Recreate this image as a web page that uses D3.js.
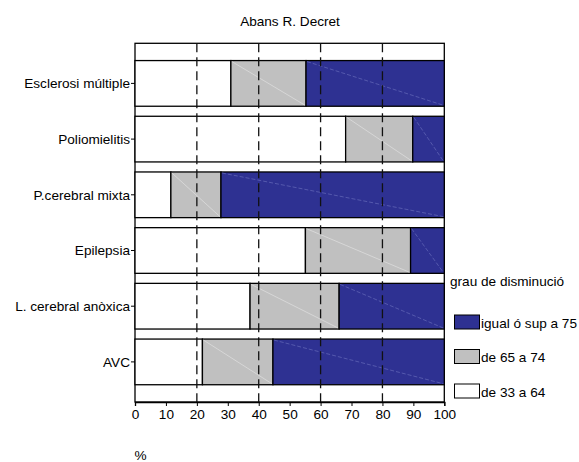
<!DOCTYPE html>
<html><head><meta charset="utf-8">
<script src="https://cdn.jsdelivr.net/npm/d3@7"></script>
<style>body{margin:0;background:#fff}svg{display:block;font-family:"Liberation Sans",Arial,sans-serif}</style>
</head><body><svg id="c" width="579" height="462"></svg>
<script>
const categories = ["Esclerosi múltiple","Poliomielitis","P.cerebral mixta","Epilepsia","L. cerebral anòxica","AVC"];
const seriesNames = ["de 33 a 64","de 65 a 74","igual ó sup a 75"];
const low = [31.0, 68.1, 11.6, 55.1, 37.2, 21.8];
const mid = [24.3, 21.7, 16.2, 34.0, 28.8, 22.8];
const high = [44.7, 10.2, 72.2, 10.9, 34.0, 55.4];
const xTicks = [0,10,20,30,40,50,60,70,80,90,100];
const gridValues = [20,40,60,80];
const colors = ["#ffffff","#c0c0c0","#2e3192"];
const legendOrder = [2,1,0];

const FONT = "Liberation Sans, Arial, sans-serif";
const FS = 13.6;
const svg = d3.select("#c");
const L=135, R=444.3, T=43.3, B=402;
const x = d3.scaleLinear().domain([0,100]).range([L,R]);
const y = d3.scaleBand().domain(categories).range([T,B]).paddingInner(0.18).paddingOuter(0.31);

svg.append("rect").attr("x",L).attr("y",T).attr("width",R-L).attr("height",B-T).attr("fill","#fff").attr("stroke","#000").attr("stroke-width",1.3);

const data = categories.map((c,i)=>({cat:c, v:[low[i],mid[i],high[i]]}));
data.forEach(d=>{
  let acc=0;
  d.v.forEach((v,k)=>{
    const x0=x(acc), x1=x(acc+v); acc+=v;
    const y0=y(d.cat), h=y.bandwidth();
    svg.append("rect").attr("x",x0).attr("y",y0).attr("width",x1-x0).attr("height",h)
      .attr("fill",colors[k]).attr("stroke","#000").attr("stroke-width",1.3);
    if(k>0){
      svg.append("line").attr("x1",x0+1).attr("y1",y0+1).attr("x2",x1-1).attr("y2",y0+h-1)
        .attr("stroke", k==1?"#e6e6e6":"#6f74c0").attr("stroke-width",0.6)
        .attr("stroke-dasharray", k==2?"4,2":null);
    }
  });
});

svg.selectAll("line.grid").data(gridValues).enter().append("line")
  .attr("x1",d=>x(d)).attr("x2",d=>x(d)).attr("y1",T).attr("y2",B)
  .attr("stroke","#111").attr("stroke-width",1.3).attr("stroke-dasharray","9,5");

const xa = svg.append("g").attr("transform",`translate(0,${B})`)
  .call(d3.axisBottom(x).tickValues(xTicks).tickSize(4).tickPadding(3).tickFormat(d3.format("d")));
xa.select(".domain").attr("stroke","#000").attr("stroke-width",1.3);
xa.selectAll("text").attr("font-size",FS).attr("fill","#000").attr("font-family",FONT);

const ya = svg.append("g").attr("transform",`translate(${L},0)`)
  .call(d3.axisLeft(y).tickSize(4).tickPadding(1));
ya.select(".domain").remove();
ya.selectAll("text").attr("font-size",FS).attr("fill","#000").attr("font-family",FONT).attr("dy","0.36em");

svg.append("text").attr("x",290).attr("y",25.5).attr("text-anchor","middle").attr("font-size",FS).text("Abans R. Decret");
svg.append("text").attr("x",140.5).attr("y",459.5).attr("text-anchor","middle").attr("font-size",FS).text("%");

svg.append("text").attr("x",450).attr("y",286).attr("font-size",FS).text("grau de disminució");
legendOrder.forEach((k,i)=>{
  const yy = 315 + i*34.5;
  svg.append("rect").attr("x",454.5).attr("y",yy).attr("width",25).attr("height",14)
    .attr("fill",colors[k]).attr("stroke","#000").attr("stroke-width",1);
  svg.append("text").attr("x",481).attr("y",yy+12.5).attr("font-size",FS).text(seriesNames[k]);
});
</script></body></html>
